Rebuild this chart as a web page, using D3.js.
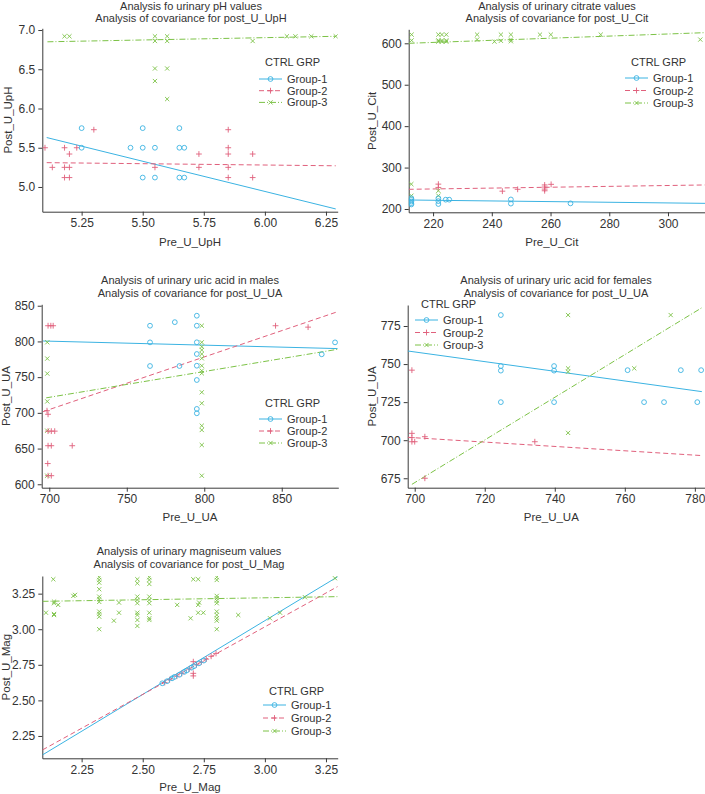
<!DOCTYPE html>
<meta charset="utf-8">
<style>
body { margin: 0; background: #fff; }
svg { font-family: "Liberation Sans", Arial, sans-serif; }
.axis path, .axis line { stroke: #3a3a3a; }
.axis text { font-size: 12px; fill: #333; }
.ttl { font-size: 11px; fill: #333; }
.lab { font-size: 11.5px; fill: #333; }
.leg { font-size: 11px; fill: #333; }
</style>
<body>
<script src="https://cdn.jsdelivr.net/npm/d3@7"></script>
<script>

var width = 705,
    height = 794;

var groups = ["Group-1", "Group-2", "Group-3"];
var colors = ["#3bb3e2", "#e0607c", "#7cc246"];
var dashes = [null, "5,3", "6,2,1,2"];

// panel 1: pH
var phX = [5.25, 5.50, 5.75, 6.00, 6.25];
var phY = [5.0, 5.5, 6.0, 6.5, 7.0];
var phG1 = [[5.25,5.75],[5.25,5.5],[5.45,5.5],[5.5,5.75],[5.5,5.5],[5.5,5.12],[5.55,5.5],[5.55,5.12],
            [5.65,5.75],[5.65,5.5],[5.67,5.5],[5.65,5.12],[5.67,5.12]];
var phG2 = [[5.1,5.5],[5.13,5.25],[5.18,5.5],[5.18,5.25],[5.2,5.25],[5.18,5.12],[5.2,5.12],[5.2,5.42],
            [5.23,5.5],[5.3,5.73],[5.55,5.25],[5.73,5.42],[5.73,5.25],[5.85,5.73],[5.85,5.5],[5.85,5.42],
            [5.85,5.25],[5.85,5.12],[5.95,5.42],[5.95,5.12]];
var phG3 = [[5.18,6.92],[5.2,6.92],[5.55,6.92],[5.55,6.86],[5.6,6.92],[5.6,6.86],[5.55,6.51],[5.6,6.51],
            [5.55,6.35],[5.6,6.12],[5.95,6.86],[6.09,6.92],[6.125,6.92],[6.19,6.92],[6.29,6.92]];
var phFit = [[[5.107,5.63],[6.29,4.72]], [[5.107,5.31],[6.29,5.27]], [[5.11,6.85],[6.29,6.92]]];

// panel 2: citrate
var citX = [220, 240, 260, 280, 300];
var citY = [200, 300, 400, 500, 600];
var citG1 = [[212.6,226],[212.6,222],[212.6,218],[212.6,214],[212.6,211],[221.8,226],[221.8,219],[221.8,212],
             [224.3,222.5],[225.5,222.5],[246.5,223],[246.5,213],[266.8,213.6]];
var citG2 = [[221.8,260],[221.8,252],[243.6,243],[248.8,247.5],[258,258],[258,253],[258,248],[258,244],[260.2,259.5]];
var citG3 = [[212.7,621],[212.7,607],[221.8,621],[223,621],[224.5,621],[221.8,607],[223,607],[224.5,607],
             [221.8,604],[223,604],[224.5,604],[235,621],[235,609],[240.9,604],[243.1,621],[243.1,606],
             [246.5,621],[246.5,609],[246.5,605],[256.4,621],[260.1,621],[277.1,621],[311,609],
             [212.6,260],[212.6,232],[221.8,244],[221.8,232]];
var citFit = [[[211.7,221.7],[312.6,213.6]], [[211.7,247.5],[312.6,258]], [[211.7,600],[312.6,625.7]]];

// panel 3: uric acid, males
var uamX = [700, 750, 800, 850];
var uamY = [600, 650, 700, 750, 800, 850];
var uamG1 = [[765,822],[765,798.7],[765,765.6],[781,827],[784,765.6],[795.2,836],[795.2,822],[795.2,798.8],
             [795.2,782.4],[795.2,766],[795.2,746],[795.2,705.5],[795.2,699.4],[875.8,782],[884.4,798.7]];
var uamG2 = [[699.2,822],[701,822],[702.5,822],[698.5,703],[699.2,698],[699.2,674.4],[701.3,674.4],[703.5,674.4],
             [699.2,654],[701.3,654],[714.8,654],[699,629],[699.2,612],[701.3,612],[846,822],[867,820]];
var uamG3 = [[698.7,798.8],[698.7,776],[698.7,755],[698.7,716],[698.7,675],[698.7,612],
             [798.4,822],[798.4,798.8],[798.4,792.6],[798.4,788],[798.4,782.4],[798.4,776.4],[798.4,766],
             [798.4,759],[798.4,755.4],[798.4,728.8],[798.4,713.4],[798.4,682],[798.4,676],[798.4,655],[798.4,612]];
var uamFit = [[[696,800.6],[886,790]], [[696,701.7],[886,841.6]], [[698,721],[886,789]]];

// panel 4: uric acid, females
var uafX = [700, 720, 740, 760, 780];
var uafY = [675, 700, 725, 750, 775];
var uafG1 = [[724.6,782.2],[724.6,748.7],[724.6,745.7],[724.6,725],[739.8,748.7],[739.8,745.7],[739.8,725],
             [760.8,746],[765.5,725],[771.2,725],[776,746],[780.7,725],[781.8,746]];
var uafG2 = [[699.2,746],[699.2,704.5],[699.2,701.7],[699.2,699],[700,699],[702.9,702.3],[702.9,675],[734.3,699]];
var uafG3 = [[743.8,782.2],[743.8,747.2],[743.8,745],[743.8,704.8],[762.7,747.2],[773.1,782.2]];
var uafFit = [[[698,758.6],[782,731.9]], [[698,701.9],[782,689.9]], [[699.2,671],[782,787]]];

// panel 5: magnesium
var magX = [2.25, 2.50, 2.75, 3.00, 3.25];
var magY = [2.25, 2.50, 2.75, 3.00, 3.25];
var magG1 = [[2.58,2.62],[2.60,2.635],[2.62,2.655],[2.63,2.665],[2.65,2.68],[2.67,2.70],[2.68,2.71],
             [2.70,2.73],[2.71,2.74],[2.73,2.76],[2.75,2.78]];
var magG2 = [[2.59,2.625],[2.61,2.645],[2.64,2.67],[2.66,2.69],[2.69,2.72],[2.72,2.75],[2.74,2.77],
             [2.76,2.79],[2.78,2.81],[2.80,2.83],[2.707,2.772],[2.707,2.69],[2.707,2.672]];
var magG3 = [[2.104,3.116],[2.134,3.351],[2.137,3.194],[2.137,3.183],[2.154,3.171],[2.137,3.100],[2.137,3.107],
             [2.216,3.234],[2.223,3.241],
             [2.322,3.365],[2.322,3.346],[2.322,3.327],[2.322,3.281],[2.322,3.229],[2.322,3.211],[2.322,3.192],
             [2.322,3.124],[2.322,3.107],[2.322,3.088],[2.322,3.000],
             [2.403,3.187],[2.403,3.116],[2.382,3.060],
             [2.478,3.351],[2.478,3.323],[2.478,3.229],[2.478,3.206],[2.478,3.183],[2.478,3.116],[2.478,3.100],
             [2.478,3.065],[2.478,3.023],
             [2.527,3.365],[2.527,3.346],[2.527,3.318],[2.527,3.229],[2.527,3.206],[2.527,3.183],[2.527,3.116],
             [2.527,3.077],[2.527,3.065],
             [2.641,3.171],[2.696,3.077],[2.707,3.351],[2.727,3.351],[2.731,3.187],[2.727,3.171],[2.727,3.116],
             [2.748,3.116],
             [2.803,3.365],[2.803,3.346],[2.803,3.234],[2.803,3.218],[2.803,3.201],[2.803,3.183],[2.803,3.124],
             [2.803,3.100],[2.803,3.077],[2.803,3.060],[2.803,3.000],
             [2.891,3.100],[3.021,3.077],[3.062,3.116],[3.164,3.225],[3.287,3.358]];
var magFit = [[[2.09,2.117],[3.298,3.369]], [[2.09,2.152],[3.298,3.30]], [[2.09,3.196],[3.298,3.229]]];

// leg: [x where legend lines start, y of "CTRL GRP", row step, first row offset]
var panels = [
  { titles: ["Analysis fo urinary pH values", "Analysis of covariance for post_U_UpH"],
    xl: "Pre_U_UpH", yl: "Post_U_UpH", box: [42.3, 337.7, 28.3, 211.7],
    xd: [5.089, 6.298], yd: [4.685, 7.022], xt: phX, yt: phY, xf: ".2f", yf: ".1f",
    pts: [phG1, phG2, phG3], fit: phFit,
    tx: 191, ty: [9.5, 21.5], xly: 246, ylx: 12, leg: [259, 62, 11.7, 17] },
  { titles: ["Analysis of urinary citrate values", "Analysis of covariance for post_U_Cit"],
    xl: "Pre_U_Cit", yl: "Post_U_Cit", box: [408.7, 705, 29.3, 212.3],
    xd: [211.7, 312.6], yd: [192, 633.8], xt: citX, yt: citY, xf: "d", yf: "d",
    pts: [citG1, citG2, citG3], fit: citFit,
    tx: 557, ty: [9.5, 21.5], xly: 246, ylx: 376, leg: [625, 62, 12.5, 16] },
  { titles: ["Analysis of urinary uric acid in males", "Analysis of covariance for post_U_UA"],
    xl: "Pre_U_UA", yl: "Post_U_UA", box: [41.7, 338.3, 304.3, 487.7],
    xd: [695.1, 886.5], yd: [595.2, 852], xt: uamX, yt: uamY, xf: "d", yf: "d",
    pts: [uamG1, uamG2, uamG3], fit: uamFit,
    tx: 190, ty: [284, 297], xly: 521, ylx: 10, leg: [259, 403, 12, 16] },
  { titles: ["Analysis of urinary uric acid for females", "Analysis of covariance for post_U_UA"],
    xl: "Pre_U_UA", yl: "Post_U_UA", box: [407.7, 705, 305, 487.7],
    xd: [698, 782.9], yd: [668.8, 788.8], xt: uafX, yt: uafY, xf: "d", yf: "d",
    pts: [uafG1, uafG2, uafG3], fit: uafFit,
    tx: 556, ty: [284, 297], xly: 521, ylx: 376, leg: [415, 304, 12.5, 16] },
  { titles: ["Analysis of urinary magniseum values", "Analysis of covariance for post_U_Mag"],
    xl: "Pre_U_Mag", yl: "Post_U_Mag", box: [42.3, 337.7, 576, 758.3],
    xd: [2.089, 3.298], yd: [2.093, 3.374], xt: magX, yt: magY, xf: ".2f", yf: ".2f",
    pts: [magG1, magG2, magG3], fit: magFit,
    tx: 189, ty: [555, 567.5], xly: 791, ylx: 9.5, leg: [263, 691, 13, 14] }
];

var svg = d3.select("body").append("svg")
    .attr("width", width)
    .attr("height", height);

function marker(g, i, x, y) {
  var c = colors[i];
  if (i === 0) {
    g.append("circle").attr("cx", x).attr("cy", y).attr("r", 2.4)
        .attr("fill", "none").attr("stroke", c).attr("stroke-width", 0.9);
  } else if (i === 1) {
    g.append("path").attr("d", "M" + (x - 2.9) + "," + y + "h5.8M" + x + "," + (y - 2.9) + "v5.8")
        .attr("stroke", c).attr("stroke-width", 0.9);
  } else {
    g.append("path").attr("d", "M" + (x - 2.1) + "," + (y - 2.1) + "l4.2,4.2M" + (x - 2.1) + "," + (y + 2.1) + "l4.2,-4.2")
        .attr("stroke", c).attr("stroke-width", 0.9);
  }
}

panels.forEach(function(p, k) {
  var x = d3.scaleLinear().domain(p.xd).range([p.box[0], p.box[1]]),
      y = d3.scaleLinear().domain(p.yd).range([p.box[3], p.box[2]]);
  var g = svg.append("g");

  g.append("clipPath").attr("id", "clip" + k).append("rect")
      .attr("x", p.box[0]).attr("y", p.box[2])
      .attr("width", p.box[1] - p.box[0]).attr("height", p.box[3] - p.box[2]);

  g.append("g").attr("class", "axis")
      .attr("transform", "translate(0," + p.box[3] + ")")
      .call(d3.axisBottom(x).tickValues(p.xt).tickFormat(d3.format(p.xf)).tickSize(4).tickSizeOuter(0));
  g.append("g").attr("class", "axis")
      .attr("transform", "translate(" + p.box[0] + ",0)")
      .call(d3.axisLeft(y).tickValues(p.yt).tickFormat(d3.format(p.yf)).tickSize(4).tickSizeOuter(0));

  var plot = g.append("g").attr("clip-path", "url(#clip" + k + ")");
  var line = d3.line().x(function(d) { return x(d[0]); }).y(function(d) { return y(d[1]); });

  p.fit.forEach(function(f, i) {
    plot.append("path").attr("d", line(f)).attr("fill", "none")
        .attr("stroke", colors[i]).attr("stroke-width", 1)
        .attr("stroke-dasharray", dashes[i]);
  });
  [2, 1, 0].forEach(function(i) {
    p.pts[i].forEach(function(d) { marker(plot, i, x(d[0]), y(d[1])); });
  });

  p.titles.forEach(function(t, j) {
    g.append("text").attr("class", "ttl").attr("x", p.tx).attr("y", p.ty[j])
        .attr("text-anchor", "middle").text(t);
  });
  g.append("text").attr("class", "lab").attr("x", (p.box[0] + p.box[1]) / 2 + (k % 2 ? -5 : 0))
      .attr("y", p.xly).attr("text-anchor", "middle").text(p.xl);
  g.append("text").attr("class", "lab")
      .attr("transform", "translate(" + p.ylx + "," + (p.box[2] + p.box[3]) / 2 + ")rotate(-90)")
      .attr("text-anchor", "middle").text(p.yl);

  // legend
  var lx = p.leg[0], ly = p.leg[1];
  var lg = g.append("g");
  lg.append("text").attr("class", "leg")
      .attr("x", lx + 6).attr("y", ly + 4).text("CTRL GRP");
  groups.forEach(function(name, i) {
    var yy = ly + p.leg[3] + i * p.leg[2],
        x1 = lx + 23;
    lg.append("line").attr("x1", lx).attr("x2", x1).attr("y1", yy).attr("y2", yy)
        .attr("stroke", colors[i]).attr("stroke-width", 1).attr("stroke-dasharray", dashes[i]);
    marker(lg, i, (lx + x1) / 2, yy);
    lg.append("text").attr("class", "leg").attr("x", x1 + 5).attr("y", yy + 4).text(name);
  });
});

</script>
